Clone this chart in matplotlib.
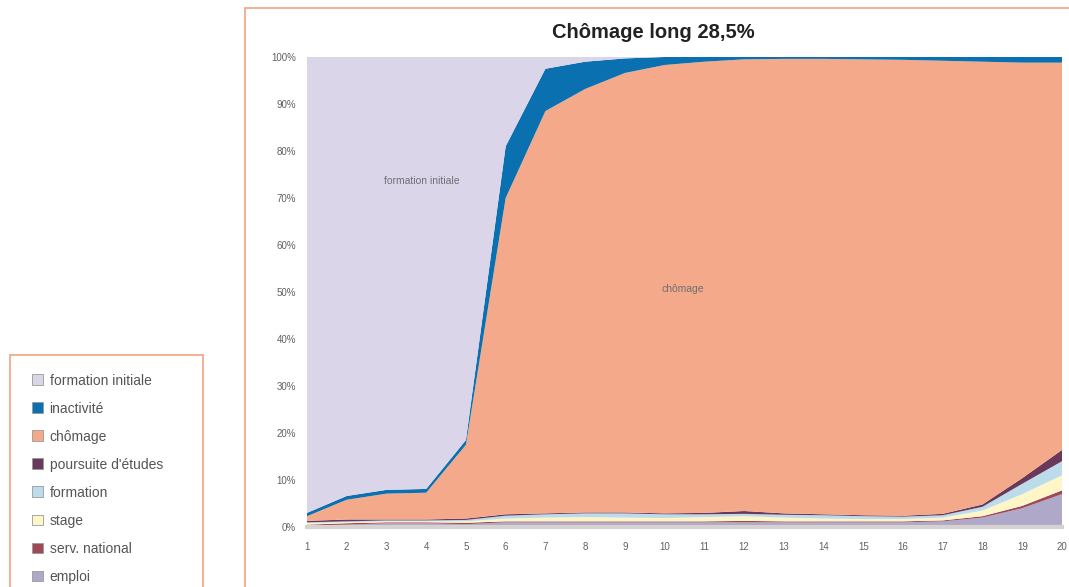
import matplotlib.pyplot as plt
from matplotlib.patches import Rectangle

plt.rcParams['font.family'] = ['Liberation Sans', 'DejaVu Sans']

# mois depuis la sortie de formation initiale
mois = list(range(1, 21))

# part de chaque situation (%), de bas en haut de la pile
emploi = [0.3, 0.5, 0.8, 0.8, 0.6, 1.0, 1.0, 1.0, 1.0, 1.0,
          1.0, 1.0, 1.0, 1.0, 1.0, 1.0, 1.2, 2.0, 4.0, 7.0]
service = [0.2, 0.3, 0.2, 0.2, 0.3, 0.2, 0.2, 0.2, 0.2, 0.2,
           0.2, 0.3, 0.2, 0.2, 0.2, 0.2, 0.2, 0.3, 0.5, 0.8]
stage = [0.3, 0.2, 0.2, 0.2, 0.3, 0.6, 0.8, 0.9, 0.8, 0.7,
         0.9, 1.0, 0.8, 0.6, 0.5, 0.5, 0.6, 1.2, 2.5, 3.2]
formation = [0.2, 0.2, 0.2, 0.2, 0.3, 0.6, 0.7, 0.8, 0.9, 0.8,
             0.6, 0.5, 0.6, 0.7, 0.6, 0.5, 0.5, 0.8, 2.2, 3.0]
poursuite = [0.3, 0.4, 0.2, 0.2, 0.3, 0.3, 0.2, 0.2, 0.2, 0.2,
             0.3, 0.6, 0.3, 0.2, 0.2, 0.2, 0.3, 0.5, 1.2, 2.4]
chomage = [1.0, 4.2, 5.5, 5.7, 15.7, 67.3, 85.6, 90.1, 93.5, 95.4,
           96.0, 96.1, 96.7, 96.9, 97.0, 97.0, 96.4, 94.2, 88.4, 82.4]
inactivite = [0.7, 0.8, 0.8, 0.8, 1.0, 11.0, 9.0, 5.8, 3.1, 1.7,
              1.0, 0.5, 0.4, 0.4, 0.5, 0.6, 0.8, 1.0, 1.2, 1.2]
form_init = [97.0, 93.4, 92.1, 91.9, 81.5, 19.0, 2.5, 1.0, 0.3, 0.0,
             0.0, 0.0, 0.0, 0.0, 0.0, 0.0, 0.0, 0.0, 0.0, 0.0]

series = [emploi, service, stage, formation, poursuite, chomage, inactivite, form_init]
noms = ['emploi', 'serv. national', 'stage', 'formation', "poursuite d'études",
        'chômage', 'inactivité', 'formation initiale']
couleurs = ['#b0a8c8', '#a04858', '#fff6c8', '#bcdcec', '#6a3858',
            '#f5a98b', '#0a70b0', '#dad5e8']

fig = plt.figure(figsize=(10.69, 5.87), dpi=100)

# cadres du graphique et de la légende
fig.patches.append(Rectangle((245/1069, -0.05), 0.8, (587-8)/587 + 0.05,
                             transform=fig.transFigure, fill=False,
                             edgecolor='#f2a283', lw=1.2))
fig.patches.append(Rectangle((10/1069, -0.05), 193/1069, (587-355)/587 + 0.05,
                             transform=fig.transFigure, fill=False,
                             edgecolor='#f2a283', lw=1.2))

ax = fig.add_axes([307/1069, 60/587, 755/1069, 470/587])
polys = ax.stackplot(mois, *series, colors=couleurs, labels=noms, lw=0)

ax.set_xlim(1, 20)
ax.set_ylim(0, 100)
ax.set_xticks(mois)
ax.set_yticks(range(0, 101, 10))
ax.set_yticklabels([f'{v}%' for v in range(0, 101, 10)])
ax.tick_params(length=0, labelsize=7, colors='#606060')
ax.tick_params(axis='y', pad=8)
ax.tick_params(axis='x', pad=11)
for s in ['top', 'right', 'left']:
    ax.spines[s].set_visible(False)
ax.spines['bottom'].set_color('#d6d2cf')
ax.spines['bottom'].set_linewidth(3)

ax.text(3.9, 73.6, 'formation initiale', fontsize=7.5, color='#707070',
        ha='center', va='center')
ax.text(10.45, 50.6, 'chômage', fontsize=7.5, color='#707070',
        ha='center', va='center')

fig.text(653/1069, 1 - 32/587, 'Chômage long 28,5%', fontsize=14.5,
         fontweight='bold', ha='center', va='center', color='#222222')

leg = fig.legend(polys[::-1], noms[::-1], loc='upper left',
                 bbox_to_anchor=(19/1069, 1 - 361/587), frameon=False,
                 fontsize=10, labelspacing=1.01, handlelength=0.8,
                 handleheight=0.8, handletextpad=0.5, labelcolor='#555555')
for h in leg.legend_handles:
    h.set_edgecolor('#999999')
    h.set_linewidth(0.6)

fig.savefig('out.png', dpi=100)
